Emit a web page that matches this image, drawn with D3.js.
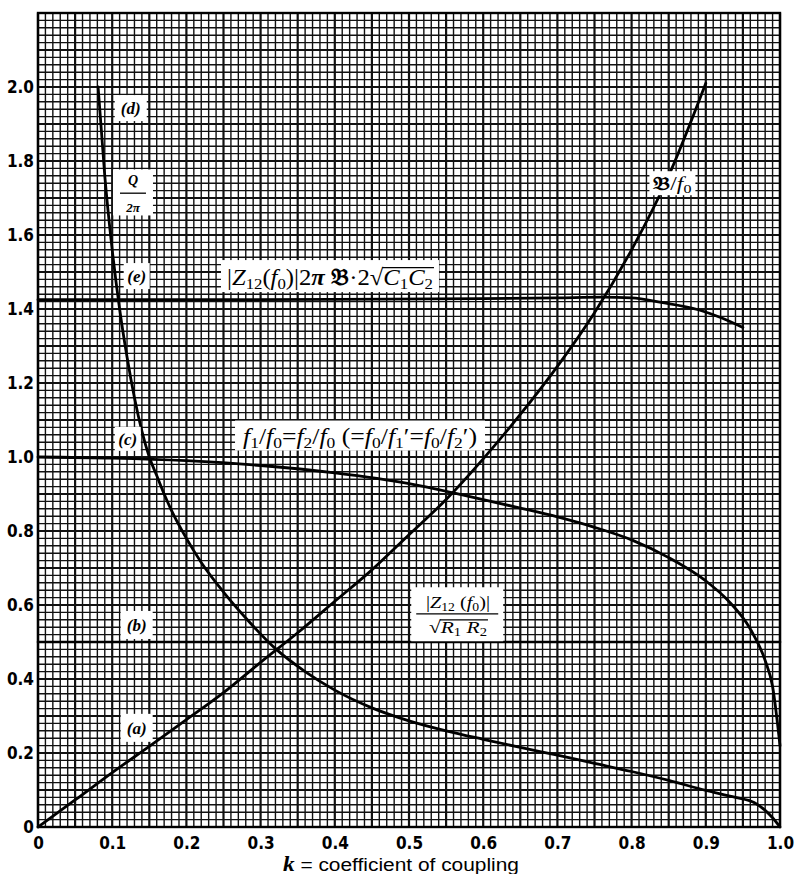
<!DOCTYPE html>
<html>
<head>
<meta charset="utf-8">
<script src="https://cdn.jsdelivr.net/npm/d3@7"></script>
<style>
  html, body { margin: 0; padding: 0; background: #fff; }
  svg { display: block; }
  .tick-label { font-family: 'Liberation Sans Narrow', 'DejaVu Sans Condensed', 'Liberation Sans', Arial, sans-serif; font-weight: bold; font-size: 17px; fill: #000; }
  .math { font-family: 'Liberation Serif', 'DejaVu Serif', serif; font-style: italic; fill: #000; }
</style>
</head>
<body>
<svg id="chart" width="795" height="874"></svg>
<script>
// ---------- data ----------
const xTickValues = [0, 0.1, 0.2, 0.3, 0.4, 0.5, 0.6, 0.7, 0.8, 0.9, 1.0];
const xTickLabels = ["0", "0.1", "0.2", "0.3", "0.4", "0.5", "0.6", "0.7", "0.8", "0.9", "1.0"];
const yTickValues = [0, 0.2, 0.4, 0.6, 0.8, 1.0, 1.2, 1.4, 1.6, 1.8, 2.0];
const yTickLabels = ["0", "0.2", "0.4", "0.6", "0.8", "1.0", "1.2", "1.4", "1.6", "1.8", "2.0"];

// (a) bandwidth / f0
const bwK = [0, 0.05, 0.1, 0.15, 0.2, 0.25, 0.3, 0.35, 0.4, 0.45, 0.5, 0.55, 0.6, 0.65, 0.7, 0.75, 0.8, 0.85, 0.9];
const bwV = [0, 0.073, 0.147, 0.218, 0.29, 0.363, 0.445, 0.525, 0.61, 0.695, 0.79, 0.885, 0.995, 1.115, 1.245, 1.39, 1.56, 1.76, 2.01];

// (b) |Z12(f0)| / sqrt(R1 R2)
const zrK = [0, 1.0];
const zrV = [0.5, 0.5];

// (c) f1/f0 = f2/f0
const fK = [0, 0.1, 0.2, 0.3, 0.4, 0.5, 0.56, 0.6, 0.65, 0.7, 0.75, 0.8, 0.85, 0.9, 0.93, 0.96, 0.98, 0.99, 1.0];
const fV = [1.0, 0.997, 0.99, 0.977, 0.957, 0.928, 0.903, 0.885, 0.862, 0.838, 0.81, 0.776, 0.728, 0.665, 0.612, 0.535, 0.45, 0.38, 0.22];

// (d) Q / 2π
const qK = [0.081, 0.09, 0.1, 0.11, 0.12, 0.13, 0.14, 0.15, 0.16, 0.17, 0.18, 0.2, 0.22, 0.25, 0.28, 0.32, 0.36, 0.4, 0.45, 0.5, 0.55, 0.6, 0.65, 0.7, 0.75, 0.8, 0.85, 0.9, 0.94, 0.965, 0.98, 0.99, 1.0];
const qV = [2.0, 1.76, 1.56, 1.40, 1.27, 1.16, 1.07, 1.0, 0.95, 0.9, 0.855, 0.78, 0.715, 0.635, 0.565, 0.482, 0.42, 0.37, 0.322, 0.287, 0.26, 0.237, 0.215, 0.194, 0.172, 0.15, 0.126, 0.099, 0.08, 0.066, 0.045, 0.025, 0.0];

// (e) |Z12(f0)| 2π B 2 sqrt(C1 C2)
const eK = [0, 0.2, 0.4, 0.6, 0.7, 0.76, 0.8, 0.84, 0.89, 0.92, 0.95];
const eV = [1.425, 1.425, 1.426, 1.428, 1.43, 1.432, 1.43, 1.418, 1.398, 1.377, 1.35];

// ---------- layout ----------
const svg = d3.select("#chart");
const x = d3.scaleLinear().domain([0, 1.0]).range([38, 780]);
const y = d3.scaleLinear().domain([0, 2.2]).range([827, 13]);

// grid paper
const grid = svg.append("g");
const xMinor = d3.range(0, 101).map(i => i / 100);
const yMinor = d3.range(0, 111).map(i => i * 0.02);
grid.selectAll("line.vx").data(xMinor).join("line")
  .attr("x1", d => x(d)).attr("x2", d => x(d))
  .attr("y1", y(0)).attr("y2", y(2.2))
  .attr("stroke", "#111")
  .attr("stroke-width", (d, i) => i % 5 === 0 ? 2.2 : 1.4);
grid.selectAll("line.hy").data(yMinor).join("line")
  .attr("y1", d => y(d)).attr("y2", d => y(d))
  .attr("x1", x(0)).attr("x2", x(1))
  .attr("stroke", "#111")
  .attr("stroke-width", (d, i) => i % 5 === 0 ? 2.2 : 1.4);
grid.append("rect")
  .attr("x", x(0)).attr("y", y(2.2))
  .attr("width", x(1) - x(0)).attr("height", y(0) - y(2.2))
  .attr("fill", "none").attr("stroke", "#000").attr("stroke-width", 2.4);

// axes (labels only)
const xAxis = d3.axisBottom(x).tickValues(xTickValues).tickFormat((d, i) => xTickLabels[i]).tickSize(0).tickPadding(10);
const gx = svg.append("g").attr("transform", `translate(0,${y(0)})`).call(xAxis);
gx.select(".domain").remove();
gx.selectAll("text").attr("class", "tick-label").attr("font-size", null).attr("font-family", null);

const yAxis = d3.axisLeft(y).tickValues(yTickValues).tickFormat((d, i) => yTickLabels[i]).tickSize(0).tickPadding(4);
const gy = svg.append("g").attr("transform", `translate(${x(0)},0)`).call(yAxis);
gy.select(".domain").remove();
gy.selectAll("text").attr("class", "tick-label").attr("font-size", null).attr("font-family", null);

// axis title
const title = svg.append("text")
  .attr("x", 401).attr("y", 871).attr("text-anchor", "middle")
  .attr("textLength", 236).attr("lengthAdjust", "spacingAndGlyphs")
  .style("font-family", "'Liberation Sans', Arial, sans-serif").style("font-size", "18px");
title.append("tspan").text("k").style("font-family", "'Liberation Serif', serif").style("font-style", "italic").style("font-weight", "bold").style("font-size", "20px");
title.append("tspan").text(" = coefficient of coupling");

// curves
const line = d3.line().x(d => x(d[0])).y(d => y(d[1])).curve(d3.curveMonotoneX);
function series(ks, vs) { return ks.map((k, i) => [k, vs[i]]); }
const curves = svg.append("g").attr("fill", "none").attr("stroke", "#000").attr("stroke-linejoin", "round").attr("stroke-linecap", "round");
curves.append("path").datum(series(zrK, zrV)).attr("d", line).attr("stroke-width", 2.6);
curves.append("path").datum(series(eK, eV)).attr("d", line).attr("stroke-width", 2.8);
curves.append("path").datum(series(fK, fV)).attr("d", line).attr("stroke-width", 2.8);
curves.append("path").datum(series(bwK, bwV)).attr("d", line).attr("stroke-width", 2.8);
curves.append("path").datum(series(qK, qV)).attr("d", line).attr("stroke-width", 2.8);

// labels with white boxes
const labels = svg.append("g");
function boxPx(cx, cy, w, h) {
  labels.append("rect").attr("x", cx - w / 2).attr("y", cy - h / 2)
    .attr("width", w).attr("height", h).attr("fill", "#fff");
}
function box(k, v, w, h) { boxPx(x(k), y(v), w, h); }
function mtext(k, v, size, len) {
  const t = labels.append("text").attr("class", "math")
    .attr("x", x(k)).attr("y", y(v)).attr("dy", "0.35em")
    .attr("text-anchor", "middle").style("font-size", size + "px");
  if (len) t.attr("textLength", len).attr("lengthAdjust", "spacingAndGlyphs");
  return t;
}
function sub(t, s) { return t.append("tspan").attr("baseline-shift", "-25%").style("font-size", "0.68em").style("font-style", "normal").text(s); }
function add(t, s, opts) {
  const ts = t.append("tspan").text(s);
  if (opts && opts.normal) ts.style("font-style", "normal");
  if (opts && opts.bold) ts.style("font-weight", "bold");
  return ts;
}
// draw a vinculum (radical overline) from the end of the radical tspan to the end of the last tspan
function vinculum(textSel, radical, last, size) {
  const r = radical.node(), l = last.node();
  const bb = textSel.node().getBBox();
  let x0, x1;
  try {
    x0 = r.getEndPositionOfChar(r.getNumberOfChars() - 1).x - 1;
    x1 = l.getEndPositionOfChar(l.getNumberOfChars() - 1).x + 1;
  } catch (e) { return; }
  const yTop = bb.y + size * 0.12;
  labels.append("line").attr("x1", x0).attr("x2", x1).attr("y1", yTop).attr("y2", yTop)
    .attr("stroke", "#000").attr("stroke-width", 1.2);
}

// (d)
box(0.125, 1.943, 32, 26);
mtext(0.125, 1.943, 17).text("(d)").style("font-weight", "bold");
// Q / 2π
box(0.128, 1.715, 40, 46);
mtext(0.128, 1.748, 14).text("Q").style("font-weight", "bold");
labels.append("line").attr("x1", x(0.128) - 13).attr("x2", x(0.128) + 13)
  .attr("y1", y(1.713)).attr("y2", y(1.713)).attr("stroke", "#000").attr("stroke-width", 1.3);
mtext(0.128, 1.675, 13).text("2π").style("font-weight", "bold");

// (e)
box(0.133, 1.489, 26, 26);
mtext(0.133, 1.489, 17).text("(e)").style("font-weight", "bold");
// |Z12(f0)| 2π B · 2 √(C1C2)
box(0.3935, 1.489, 218, 32);
{
  const t = mtext(0.3935, 1.487, 23, 206);
  add(t, "|", { normal: true }); add(t, "Z"); sub(t, "12"); add(t, "(", { normal: true }); add(t, "f"); sub(t, "0");
  add(t, ")|", { normal: true }); add(t, "2", { normal: true }); add(t, "π", { bold: true }); add(t, " 𝔅", { bold: true, normal: true });
  add(t, "·2", { normal: true }); const rad = add(t, "√", { normal: true });
  add(t, "C"); sub(t, "1"); add(t, "C"); const last = sub(t, "2");
  vinculum(t, rad, last, 23);
}

// (c)
box(0.121, 1.049, 26, 24);
mtext(0.121, 1.049, 17).text("(c)").style("font-weight", "bold");
// f1/f0 = f2/f0 (= f0/f1' = f0/f2')
box(0.434, 1.058, 250, 30);
{
  const t = mtext(0.434, 1.058, 23, 234);
  add(t, "f"); sub(t, "1"); add(t, "/", { normal: true }); add(t, "f"); sub(t, "0");
  add(t, "=", { normal: true }); add(t, "f"); sub(t, "2"); add(t, "/", { normal: true }); add(t, "f"); sub(t, "0");
  add(t, " (=", { normal: true }); add(t, "f"); sub(t, "0"); add(t, "/", { normal: true }); add(t, "f"); sub(t, "1"); add(t, "′", { normal: true });
  add(t, "=", { normal: true }); add(t, "f"); sub(t, "0"); add(t, "/", { normal: true }); add(t, "f"); sub(t, "2"); add(t, "′)", { normal: true });
}

// B/f0
box(0.855, 1.74, 46, 24);
{
  const t = mtext(0.855, 1.74, 18, 38);
  add(t, "𝔅", { bold: true, normal: true }); add(t, "/", { normal: true }); add(t, "f"); sub(t, "0");
}

// (b)
box(0.133, 0.546, 32, 28);
mtext(0.133, 0.546, 17).text("(b)").style("font-weight", "bold");
// |Z12(f0)| / sqrt(R1R2)
box(0.565, 0.575, 92, 54);
{
  const t = mtext(0.566, 0.607, 17, 64);
  add(t, "|", { normal: true }); add(t, "Z"); sub(t, "12"); add(t, " (", { normal: true }); add(t, "f"); sub(t, "0"); add(t, ")|", { normal: true });
  labels.append("line").attr("x1", x(0.565) - 41).attr("x2", x(0.565) + 41)
    .attr("y1", y(0.576)).attr("y2", y(0.576)).attr("stroke", "#000").attr("stroke-width", 1.3);
  const b = mtext(0.566, 0.541, 17, 58);
  const rad = add(b, "√", { normal: true }); add(b, "R"); sub(b, "1"); add(b, " R"); const last = sub(b, "2");
  vinculum(b, rad, last, 17);
}

// (a)
box(0.133, 0.268, 32, 28);
mtext(0.133, 0.268, 17).text("(a)").style("font-weight", "bold");
</script>
</body>
</html>
